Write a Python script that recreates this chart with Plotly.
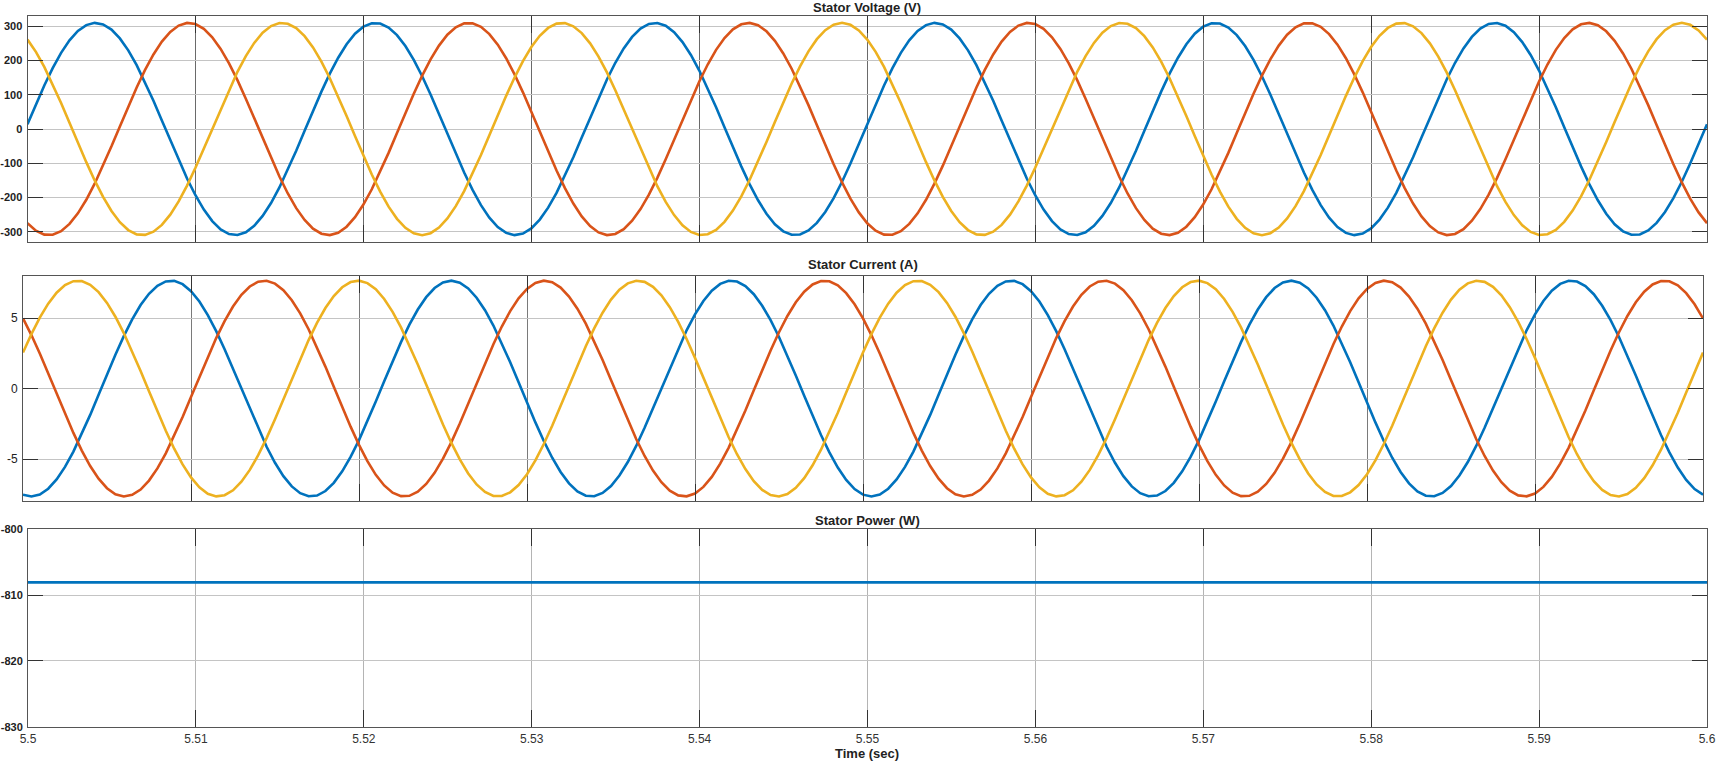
import numpy as np
import plotly.graph_objects as go

# ---- data ----
T_START = 5.5
T_END = 5.6
SAMPLE_STEP = 0.0005          # solver output step (s)
FREQ_HZ = 60.0                 # supply frequency
PHASE_COLORS = ["#0072BD", "#D95319", "#EDB120"]
PHASE_SHIFT_DEG = [0.0, -120.0, 120.0]   # a, b, c sequence

V_AMPLITUDE = 310.0            # stator voltage peak (V)
V_ANGLE_AT_START_DEG = 2.6     # phase-a voltage angle at t = 5.5 s
I_AMPLITUDE = 7.65             # stator current peak (A)
I_LAG_DEG = 103.13             # current lag behind voltage

X_TICKS = [5.5, 5.51, 5.52, 5.53, 5.54, 5.55, 5.56, 5.57, 5.58, 5.59, 5.6]
X_TICK_TEXT = ["5.5", "5.51", "5.52", "5.53", "5.54", "5.55", "5.56", "5.57", "5.58", "5.59", "5.6"]
V_TICKS = [-300, -200, -100, 0, 100, 200, 300]
V_TICK_TEXT = ["-300", "-200", "-100", "0", "100", "200", "300"]
I_TICKS = [-5, 0, 5]
I_TICK_TEXT = ["-5", "0", "5"]
P_TICKS = [-830, -820, -810, -800]
P_TICK_TEXT = ["-830", "-820", "-810", "-800"]
V_RANGE = [-330, 330]
I_RANGE = [-7.95, 8.0]
P_RANGE = [-830, -800]
TITLES = ["Stator Voltage (V)", "Stator Current (A)", "Stator Power (W)"]
X_TITLE = "Time (sec)"

# ---- signals ----
t = np.arange(T_START, T_END + SAMPLE_STEP / 2, SAMPLE_STEP)
w = 2 * np.pi * FREQ_HZ
volts = []
amps = []
for sh in PHASE_SHIFT_DEG:
    ang = w * (t - T_START) + np.deg2rad(V_ANGLE_AT_START_DEG + sh)
    volts.append(V_AMPLITUDE * np.sin(ang))
    amps.append(I_AMPLITUDE * np.sin(ang - np.deg2rad(I_LAG_DEG)))
power = sum(v * i for v, i in zip(volts, amps))

W, H = 1718, 761
def px_x(a, b):
    return [a / W, b / W]
def px_y(top, bottom):
    return [1 - bottom / H, 1 - top / H]

fig = go.Figure()
for k in range(3):
    fig.add_trace(go.Scatter(x=t, y=volts[k], mode="lines", xaxis="x", yaxis="y",
                             line=dict(color=PHASE_COLORS[k], width=2.6), showlegend=False))
for k in range(3):
    fig.add_trace(go.Scatter(x=t, y=amps[k], mode="lines", xaxis="x2", yaxis="y2",
                             line=dict(color=PHASE_COLORS[k], width=2.6), showlegend=False))
fig.add_trace(go.Scatter(x=t, y=power, mode="lines", xaxis="x3", yaxis="y3",
                         line=dict(color=PHASE_COLORS[0], width=2.8), showlegend=False))

FONT = "Arial, Liberation Sans, sans-serif"
def xax(domain, anchor, labels, gridcolor):
    return dict(domain=domain, anchor=anchor, range=[T_START, T_END],
                tickvals=X_TICKS, ticktext=X_TICK_TEXT, showticklabels=labels,
                ticks="inside", ticklen=17, tickcolor="#333", tickwidth=1,
                showgrid=True, gridcolor=gridcolor, gridwidth=1,
                showline=True, linecolor="#555", linewidth=1, mirror="ticks",
                zeroline=False, automargin=False, ticklabeloverflow="allow",
                ticklabelstandoff=1,
                tickfont=dict(family=FONT, size=12, color="#333"))
def yax(domain, anchor, rng, ticks, text, bold):
    return dict(domain=domain, anchor=anchor, range=rng, tickvals=ticks, ticktext=text,
                ticks="inside", ticklen=15, tickcolor="#333", tickwidth=1,
                showgrid=True, gridcolor="#c4c4c4", gridwidth=1,
                showline=True, linecolor="#555", linewidth=1, mirror="ticks",
                zeroline=False, automargin=False, ticklabeloverflow="allow",
                ticklabelstandoff=2,
                tickfont=dict(family=FONT, size=11 if bold else 12, color="#222",
                              weight="bold" if bold else "normal"))

layout = dict(
    template="none",
    width=W, height=H, margin=dict(l=0, r=0, t=0, b=0, pad=0, autoexpand=False),
    paper_bgcolor="white", plot_bgcolor="white",
    xaxis=xax(px_x(27.5, 1707), "y", False, "#6a6a6a"),
    yaxis=yax(px_y(16, 242), "x", V_RANGE, V_TICKS, V_TICK_TEXT, True),
    xaxis2=xax(px_x(23, 1703), "y2", False, "#7a7a7a"),
    yaxis2=yax(px_y(275.7, 500.7), "x2", I_RANGE, I_TICKS, I_TICK_TEXT, False),
    xaxis3=xax(px_x(28, 1707), "y3", True, "#b4b4b4"),
    yaxis3=yax(px_y(529.3, 726.7), "x3", P_RANGE, P_TICKS, P_TICK_TEXT, True),
)
fig.update_layout(**layout)

title_pos = [(867, 7), (863, 265), (867, 520)]
for txt, (cx, cy) in zip(TITLES, title_pos):
    fig.add_annotation(text="<b>%s</b>" % txt, x=cx / W, y=1 - cy / H, xref="paper", yref="paper",
                       showarrow=False, xanchor="center", yanchor="middle",
                       font=dict(family=FONT, size=13, color="#222"))
fig.add_annotation(text="<b>%s</b>" % X_TITLE, x=867 / W, y=1 - 753 / H, xref="paper", yref="paper",
                   showarrow=False, xanchor="center", yanchor="middle",
                   font=dict(family=FONT, size=13, color="#222"))

fig.write_html("out.html", config={"displayModeBar": False},
               post_script="document.body.style.margin='0';document.body.style.overflow='hidden';")
